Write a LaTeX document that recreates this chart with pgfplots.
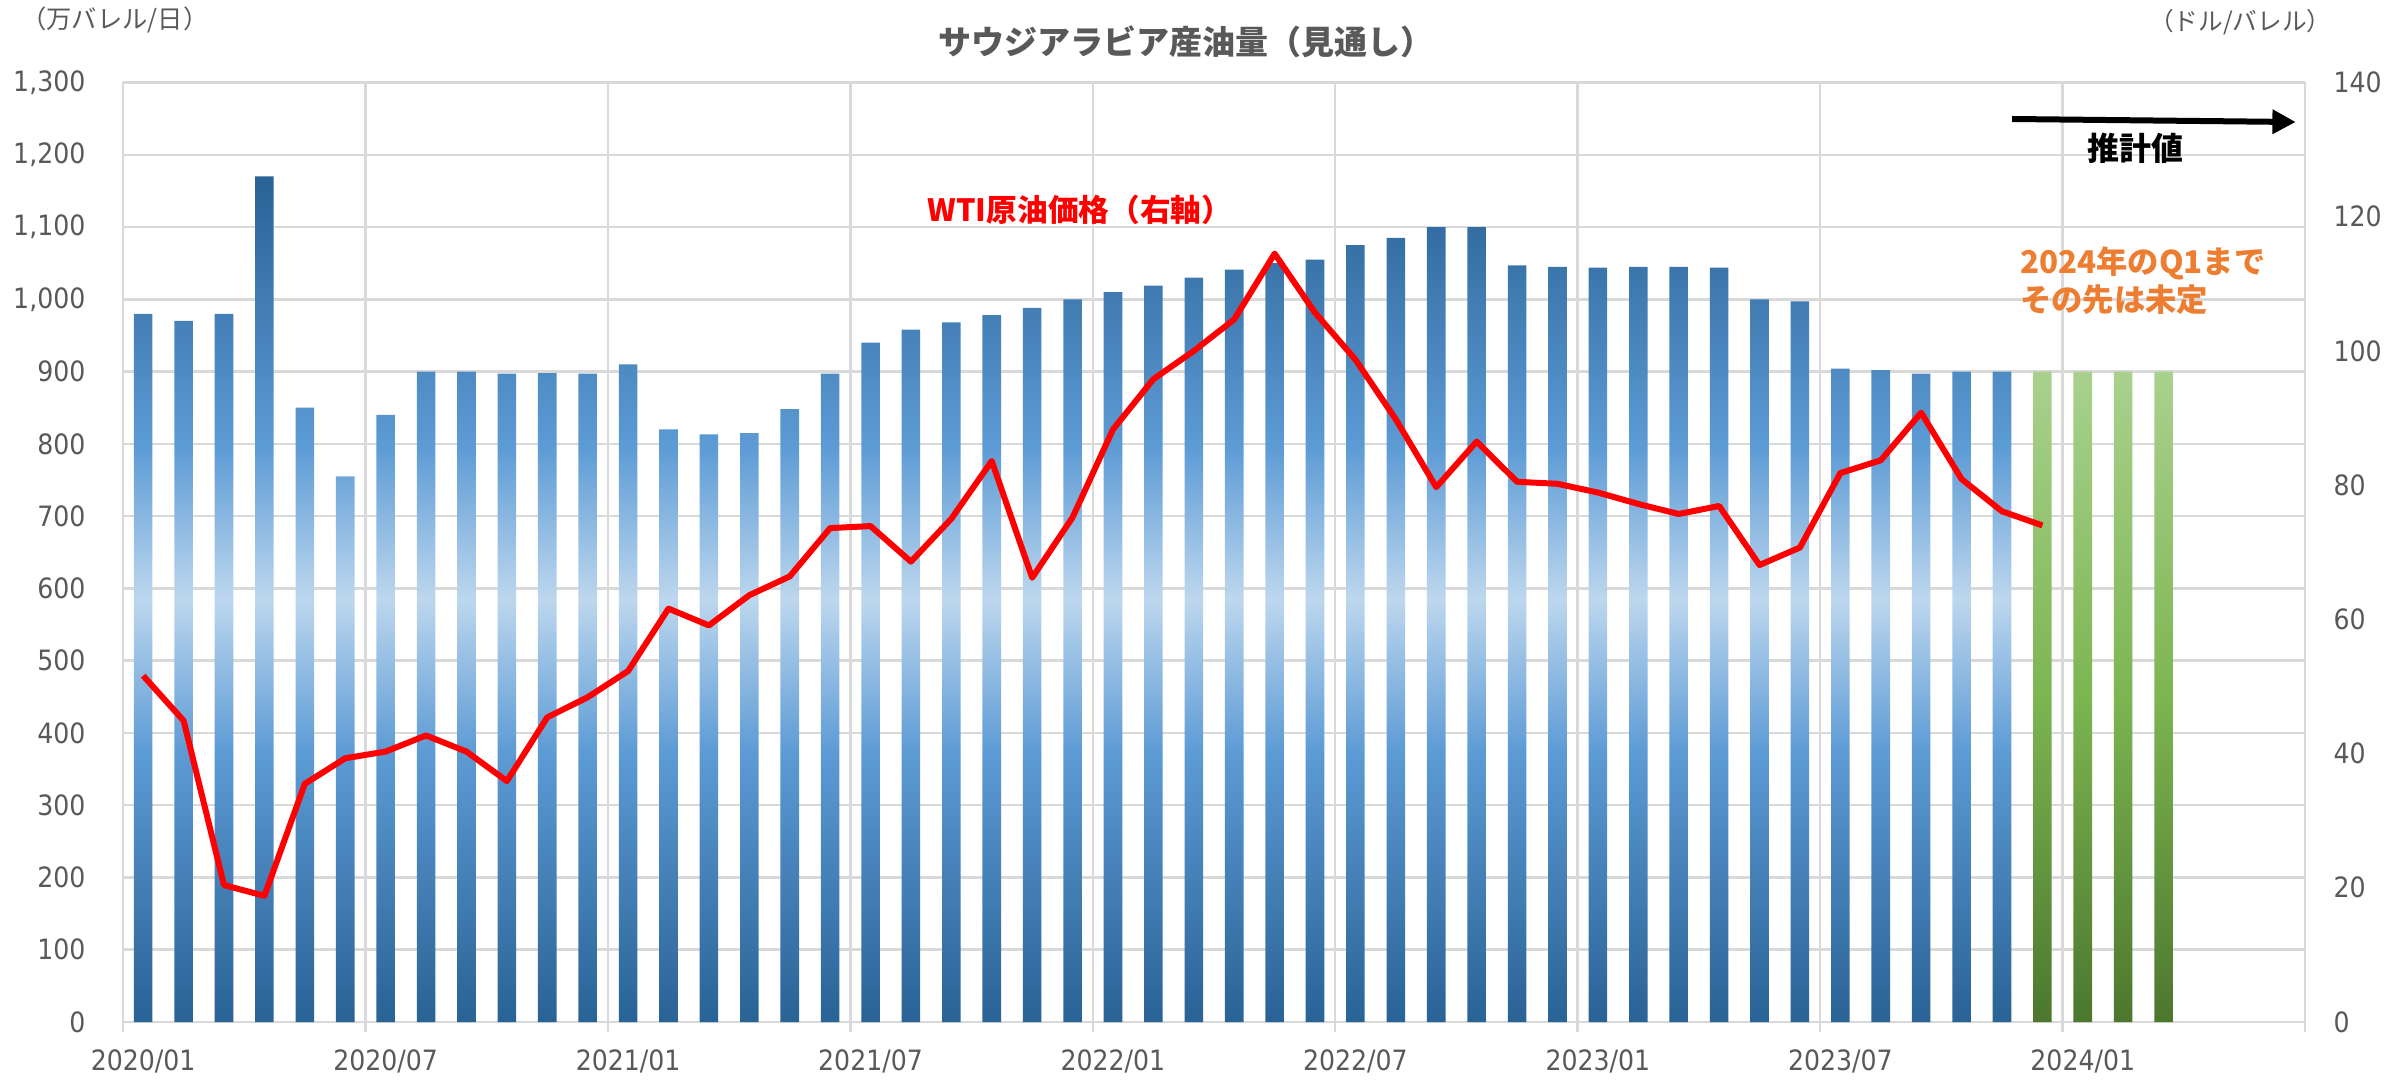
\documentclass[border=0pt]{standalone}
\usepackage{fontspec}
\usepackage{pgfplots}
\pgfplotsset{compat=1.18}
\usetikzlibrary{arrows.meta}
\setmainfont{Noto Sans CJK JP}
\newfontfamily\tickfont{DejaVu Sans Condensed}
\definecolor{gridgray}{HTML}{D9D9D9}
\definecolor{ticktext}{HTML}{595959}
\definecolor{annorange}{HTML}{ED7D31}
\pgfdeclareverticalshading{bluebar}{100bp}{rgb(0bp)=(0.161,0.384,0.584); rgb(25bp)=(0.161,0.384,0.584); rgb(41bp)=(0.365,0.608,0.835); rgb(50bp)=(0.741,0.843,0.933); rgb(59bp)=(0.365,0.608,0.835); rgb(75bp)=(0.161,0.384,0.584); rgb(100bp)=(0.161,0.384,0.584)}
\pgfdeclareverticalshading{greenbar}{100bp}{rgb(0bp)=(0.298,0.467,0.180); rgb(25bp)=(0.298,0.467,0.180); rgb(50bp)=(0.49,0.71,0.318); rgb(75bp)=(0.663,0.820,0.557); rgb(100bp)=(0.663,0.820,0.557)}
\begin{document}
\begin{tikzpicture}
\begin{axis}[
  name=ax,
  scale only axis, width=654.6pt, height=281.85pt,
  xmin=0, xmax=54, ymin=0, ymax=1300,
  clip=false,
  axis line style={draw=none},
  xtick={0.5,6.5,12.5,18.5,24.5,30.5,36.5,42.5,48.5},
  xticklabels={2020/01,2020/07,2021/01,2021/07,2022/01,2022/07,2023/01,2023/07,2024/01},
  minor xtick={0,6,12,18,24,30,36,42,48,54},
  xminorgrids=true,
  ytick={0,100,...,1300},
  ymajorgrids=true,
  grid style={gridgray, line width=0.75pt},
  minor grid style={gridgray, line width=0.75pt},
  major tick length=0pt, minor tick length=3pt,
  tick align=outside,
  minor tick style={gridgray, line width=0.75pt},
  major tick style={draw=none},
  ytick pos=left, xtick pos=bottom,
  /pgf/number format/assume math mode=true,
  /pgf/number format/1000 sep={,},
  tick label style={font=\tickfont\fontsize{8.4}{10}\selectfont, text=ticktext},
  yticklabel style={inner sep=0pt, anchor=east, xshift=-11.1pt},
  xticklabel style={inner sep=0pt, anchor=north, yshift=-8.2pt},
]
\addplot[ybar, bar width=0.46, bar shift=0pt, draw=none, shading=bluebar] coordinates {
(0.5,980) (1.5,970) (2.5,980) (3.5,1170) (4.5,850) (5.5,755) (6.5,840) (7.5,900) (8.5,900) (9.5,897)
(10.5,898) (11.5,897) (12.5,910) (13.5,820) (14.5,813) (15.5,815) (16.5,848) (17.5,897) (18.5,940) (19.5,958)
(20.5,968) (21.5,978) (22.5,988) (23.5,1000) (24.5,1010) (25.5,1019) (26.5,1030) (27.5,1041) (28.5,1050) (29.5,1055)
(30.5,1075) (31.5,1085) (32.5,1100) (33.5,1100) (34.5,1047) (35.5,1045) (36.5,1044) (37.5,1045) (38.5,1045) (39.5,1044)
(40.5,1000) (41.5,997) (42.5,904) (43.5,902) (44.5,897) (45.5,900) (46.5,900)
};
\addplot[ybar, bar width=0.46, bar shift=0pt, draw=none, shading=greenbar] coordinates {
(47.5,900) (48.5,900) (49.5,900) (50.5,900)
};
\node[font=\bfseries\fontsize{9.9}{11}\selectfont, text=ticktext] at (axis cs:26.3,1356.7) {サウジアラビア産油量（見通し）};
\node[font=\fontsize{7.6}{9}\selectfont, text=ticktext] at (axis cs:-0.2,1386.5) {（万バレル/日）};
\node[font=\fontsize{7.4}{9}\selectfont, text=ticktext] at (axis cs:52.4,1383) {（ドル/バレル）};
\node[font=\bfseries\fontsize{9.2}{11}\selectfont, text=red] at (axis cs:23.68,1123.6) {WTI原油価格（右軸）};
\node[font=\bfseries\fontsize{9.6}{11}\selectfont, text=black] at (axis cs:49.81,1209.4) {推計値};
\draw[line width=1.8pt, -{Triangle[length=7pt,width=7pt]}] (axis cs:46.75,1249.5) -- (axis cs:53.77,1245.3);
\node[font=\bfseries\fontsize{9.4}{11.55}\selectfont, text=annorange, anchor=west, align=left, inner sep=0pt] at (axis cs:46.93,1025.7) {2024年のQ1まで\\その先は未定};
\end{axis}
\begin{axis}[
  scale only axis, width=654.6pt, height=281.85pt,
  xmin=0, xmax=54, ymin=0, ymax=140,
  axis x line=none,
  axis y line*=right,
  axis line style={draw=none},
  ytick={0,20,...,140},
  major tick length=0pt,
  major tick style={draw=none},
  /pgf/number format/assume math mode=true,
  tick label style={font=\tickfont\fontsize{8.4}{10}\selectfont, text=ticktext},
  yticklabel style={inner sep=0pt, anchor=west, xshift=8.4pt},
]
\addplot[red, line width=1.8pt, line join=round] coordinates {
(0.5,51.6) (1.5,44.9) (2.5,20.4) (3.5,18.8) (4.5,35.5) (5.5,39.3) (6.5,40.3) (7.5,42.7) (8.5,40.3) (9.5,35.9)
(10.5,45.4) (11.5,48.4) (12.5,52.3) (13.5,61.6) (14.5,59.1) (15.5,63.6) (16.5,66.4) (17.5,73.6) (18.5,73.9) (19.5,68.6)
(20.5,75.0) (21.5,83.6) (22.5,66.2) (23.5,75.2) (24.5,88.3) (25.5,95.8) (26.5,100.0) (27.5,104.7) (28.5,114.5) (29.5,105.7)
(30.5,98.7) (31.5,89.8) (32.5,79.7) (33.5,86.5) (34.5,80.5) (35.5,80.2) (36.5,78.9) (37.5,77.2) (38.5,75.7) (39.5,76.9)
(40.5,68.1) (41.5,70.7) (42.5,81.8) (43.5,83.7) (44.5,90.8) (45.5,80.9) (46.5,76.1) (47.5,74.0)
};
\end{axis}
\pgfresetboundingbox
\path[use as bounding box] ([xshift=-36.9pt,yshift=-17.7pt]ax.south west) rectangle ([xshift=30.6pt,yshift=24.75pt]ax.north east);
\end{tikzpicture}
\end{document}
